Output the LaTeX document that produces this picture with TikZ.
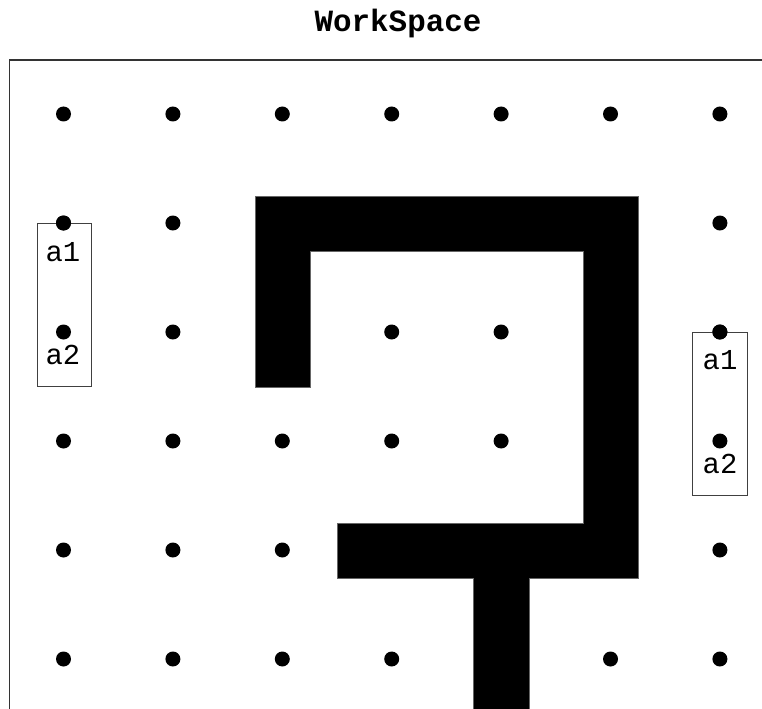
\documentclass[tikz,border=0pt]{standalone}
\usepackage{fontspec}
\newfontfamily\monofont{Liberation Mono}
\begin{document}
\begin{tikzpicture}[x=1bp,y=-1bp,
  dot/.style={circle,fill=black,inner sep=0pt,minimum size=15bp},
  robotbox/.style={draw=black!75,line width=0.8bp},
  lbl/.style={inner sep=0pt,font=\monofont\fontsize{29}{29}\selectfont},
  obstacle/.style={fill=black,draw=black!60,line width=0.5bp}]
\useasboundingbox (0,0) rectangle (762,709);
\clip (0,0) rectangle (762,709);
% title
\node[font=\monofont\bfseries\fontsize{31}{31}\selectfont] (title) at (398,24) {WorkSpace};
% frame
\draw[black!80,line width=1.2bp] (9.5,780) -- (9.5,60) -- (800,60);
% obstacle
\fill[obstacle] (255,196) -- (638,196) -- (638,578) -- (529,578) -- (529,740)
  -- (473,740) -- (473,578) -- (337,578) -- (337,523) -- (583,523) -- (583,251)
  -- (310,251) -- (310,387) -- (255,387) -- cycle;
% grid dots
\foreach \c/\r in {0/0,1/0,2/0,3/0,4/0,5/0,6/0,
                   0/1,1/1,6/1,
                   0/2,1/2,3/2,4/2,6/2,
                   0/3,1/3,2/3,3/3,4/3,6/3,
                   0/4,1/4,2/4,6/4,
                   0/5,1/5,2/5,3/5,5/5,6/5}
  \node[dot] (d\c\r) at ({63.5+109.4*\c},{114+109*\r}) {};
% robots
\draw[robotbox] (37,223) rectangle (91,386);
\draw[robotbox] (692,332) rectangle (747,495);
\node[dot] at (d01) {};
\node[dot] at (d62) {};
\node[lbl] (la1) at (63,252) {a1};
\node[lbl] (la2) at (63,355) {a2};
\node[lbl] (ra1) at (720,360) {a1};
\node[lbl] (ra2) at (720,464) {a2};
\end{tikzpicture}
\end{document}
